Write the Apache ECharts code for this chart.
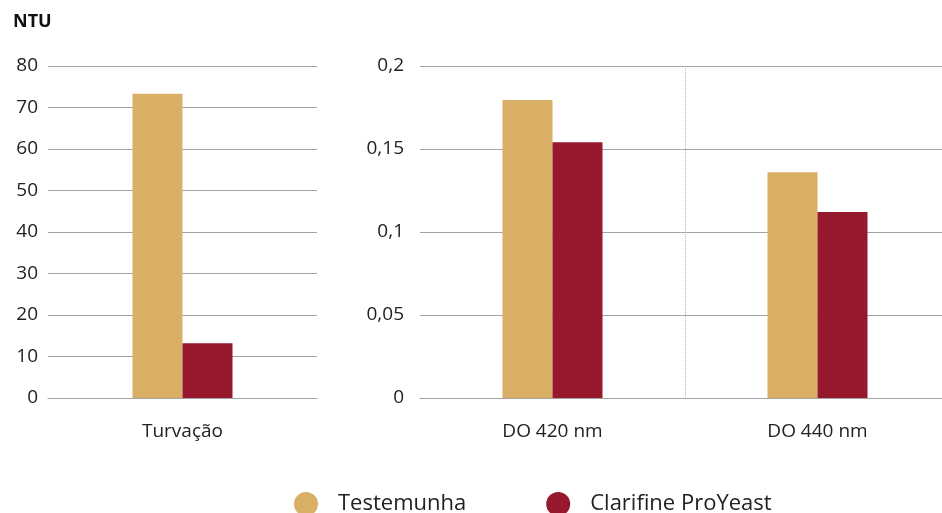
<!DOCTYPE html>
<html>
<head>
<meta charset="utf-8">
<script src="https://cdn.jsdelivr.net/npm/echarts@6/dist/echarts.min.js"></script>
<style>
  html, body { margin: 0; padding: 0; background: #fff; }
  #chart { width: 942px; height: 513px; }
</style>
</head>
<body>
<div id="chart"></div>
<script>
const seriesNames = ['Testemunha', 'Clarifine ProYeast'];
const colors = ['#D9AF66', '#96182C'];

// left panel: turbidity (NTU)
const ntuCategories = ['Turvação'];
const ntuTestemunha = [73.3];
const ntuClarifine = [13.2];

// right panel: optical density
const doCategories = ['DO 420 nm', 'DO 440 nm'];
const doTestemunha = [0.1795, 0.136];
const doClarifine = [0.154, 0.112];

const font = 'Open Sans';
const gridLine = { color: '#a3a3a3', width: 1 };

const chart = echarts.init(document.getElementById('chart'));

const option = {
  animation: false,
  textStyle: { fontFamily: font },
  title: {
    text: 'NTU',
    left: 8,
    top: 8,
    textStyle: { fontSize: 18, fontWeight: 'bold', color: '#111', fontFamily: font }
  },
  legend: {
    data: seriesNames,
    icon: 'circle',
    itemWidth: 24,
    itemHeight: 24,
    itemGap: 80,
    left: 289,
    top: 487,
    textStyle: { fontSize: 22, color: '#222', fontFamily: font, padding: [0, 0, 0, 15] }
  },
  grid: [
    { left: 48, top: 66, width: 269, height: 332, outerBoundsMode: 'none' },
    { left: 420, top: 66, width: 530, height: 332, outerBoundsMode: 'none' }
  ],
  xAxis: [
    {
      type: 'category',
      gridIndex: 0,
      data: ntuCategories,
      axisLine: { show: true, lineStyle: gridLine },
      axisTick: { show: false },
      axisLabel: { fontSize: 19, color: '#222', margin: 24 }
    },
    {
      type: 'category',
      gridIndex: 1,
      data: doCategories,
      axisLine: { show: true, lineStyle: gridLine },
      axisTick: { show: false },
      axisLabel: { fontSize: 19, color: '#222', margin: 24 },
      splitLine: {
        show: true,
        showMinLine: false,
        showMaxLine: false,
        lineStyle: { color: '#b5b5b5', type: 'dotted', width: 1 }
      }
    }
  ],
  yAxis: [
    {
      type: 'value',
      gridIndex: 0,
      min: 0,
      max: 80,
      interval: 10,
      axisLine: { show: false },
      axisTick: { show: false },
      axisLabel: { fontSize: 19, color: '#222', margin: 10 },
      splitLine: { lineStyle: gridLine }
    },
    {
      type: 'value',
      gridIndex: 1,
      min: 0,
      max: 0.2,
      interval: 0.05,
      axisLine: { show: false },
      axisTick: { show: false },
      axisLabel: {
        fontSize: 19,
        color: '#222',
        margin: 16,
        formatter: v => String(+v.toFixed(2)).replace('.', ',')
      },
      splitLine: { lineStyle: gridLine }
    }
  ],
  series: [
    {
      name: seriesNames[0], type: 'bar', xAxisIndex: 0, yAxisIndex: 0,
      data: ntuTestemunha, barWidth: 50, barGap: 0,
      itemStyle: { color: colors[0] }
    },
    {
      name: seriesNames[1], type: 'bar', xAxisIndex: 0, yAxisIndex: 0,
      data: ntuClarifine, barWidth: 50, barGap: 0,
      itemStyle: { color: colors[1] }
    },
    {
      name: seriesNames[0], type: 'bar', xAxisIndex: 1, yAxisIndex: 1,
      data: doTestemunha, barWidth: 50, barGap: 0,
      itemStyle: { color: colors[0] }
    },
    {
      name: seriesNames[1], type: 'bar', xAxisIndex: 1, yAxisIndex: 1,
      data: doClarifine, barWidth: 50, barGap: 0,
      itemStyle: { color: colors[1] }
    }
  ]
};

chart.setOption(option);
</script>
</body>
</html>
